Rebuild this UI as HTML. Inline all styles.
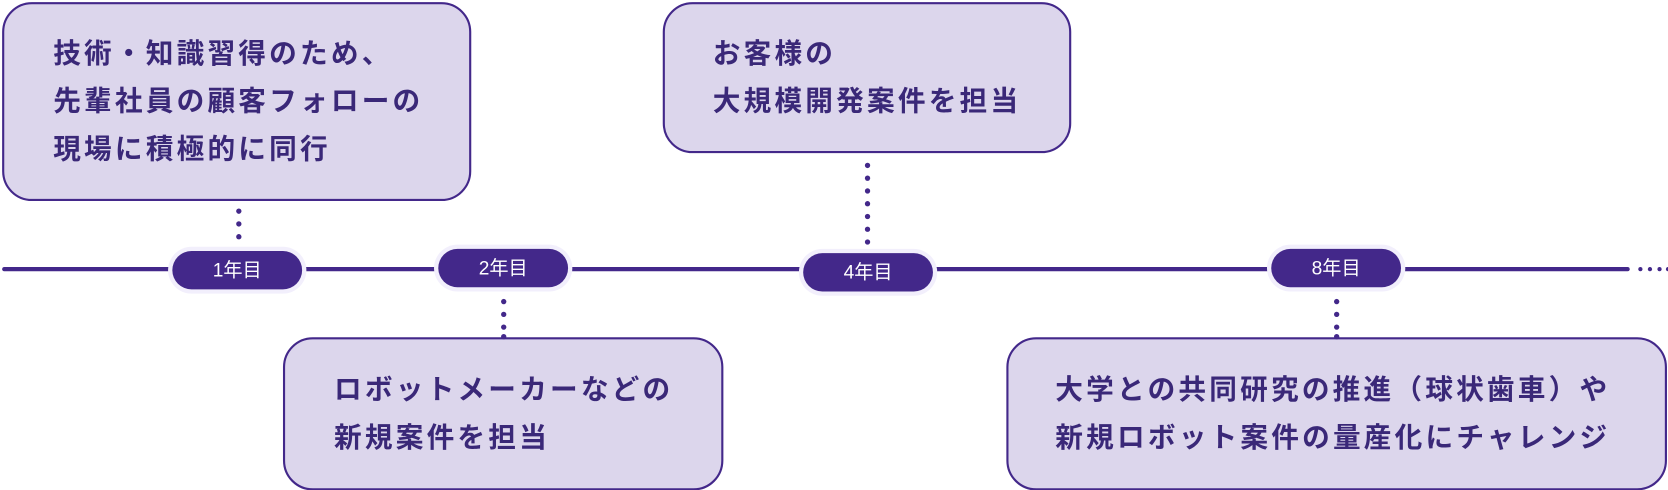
<!DOCTYPE html>
<html><head><meta charset="utf-8"><style>
body{margin:0;width:1668px;height:490px;background:#fff;position:relative;overflow:hidden;font-family:"Liberation Sans","Noto Sans CJK JP",sans-serif}
#w{position:absolute;left:0;top:0;width:1568px;height:461px;transform:scale(1.0638);transform-origin:0 0}
.box{position:absolute;background:#dcd6ec;border:2px solid #43288a;border-radius:28px;box-sizing:border-box;color:#3a2878;font-weight:bold;font-size:26px;line-height:45px;letter-spacing:3px}
.pill{position:absolute;width:122px;height:36px;background:#43288a;border-radius:18px;color:#fff;font-size:18px;text-align:center;line-height:36px;box-shadow:0 0 0 4px #f2effc}
.line{position:absolute;left:2px;top:251px;width:1530px;height:4px;background:#43288a;border-radius:2px}
.d{position:absolute;width:5px;height:5px;border-radius:50%;background:#43288a}
</style></head><body><div id="w">
<div class="line"></div>
<div class="box" style="left:2px;top:2px;width:441px;height:187px;padding:24px 0 0 46px">技術・知識習得のため、<br>先輩社員の顧客フォローの<br>現場に積極的に同行</div>
<div class="box" style="left:623px;top:2px;width:384px;height:142px;padding:24px 0 0 45px">お客様の<br>大規模開発案件を担当</div>
<div class="box" style="left:266px;top:317px;width:414px;height:144px;padding:25px 0 0 46px">ロボットメーカーなどの<br>新規案件を担当</div>
<div class="box" style="left:946px;top:317px;width:621px;height:144px;padding:25px 0 0 44px">大学との共同研究の推進（球状歯車）や<br>新規ロボット案件の量産化にチャレンジ</div>
<div class="pill" style="left:162px;top:236px">1年目</div>
<div class="pill" style="left:412px;top:234px">2年目</div>
<div class="pill" style="left:755px;top:238px">4年目</div>
<div class="pill" style="left:1195px;top:234px">8年目</div>
<div class="d" style="left:222px;top:196px"></div><div class="d" style="left:222px;top:208px"></div><div class="d" style="left:222px;top:220px"></div>
<div class="d" style="left:471px;top:281px"></div><div class="d" style="left:471px;top:293px"></div><div class="d" style="left:471px;top:305px"></div><div class="d" style="left:471px;top:314px"></div>
<div class="d" style="left:813px;top:153px"></div><div class="d" style="left:813px;top:165px"></div><div class="d" style="left:813px;top:177px"></div><div class="d" style="left:813px;top:189px"></div><div class="d" style="left:813px;top:201px"></div><div class="d" style="left:813px;top:213px"></div><div class="d" style="left:813px;top:225px"></div>
<div class="d" style="left:1254px;top:281px"></div><div class="d" style="left:1254px;top:293px"></div><div class="d" style="left:1254px;top:305px"></div><div class="d" style="left:1254px;top:314px"></div>
<div class="d" style="left:1540px;top:251px;width:4px;height:4px"></div><div class="d" style="left:1549px;top:251px;width:4px;height:4px"></div><div class="d" style="left:1558px;top:251px;width:4px;height:4px"></div><div class="d" style="left:1566px;top:251px;width:2px;height:4px;border-radius:2px 0 0 2px"></div>
</div></body></html>
